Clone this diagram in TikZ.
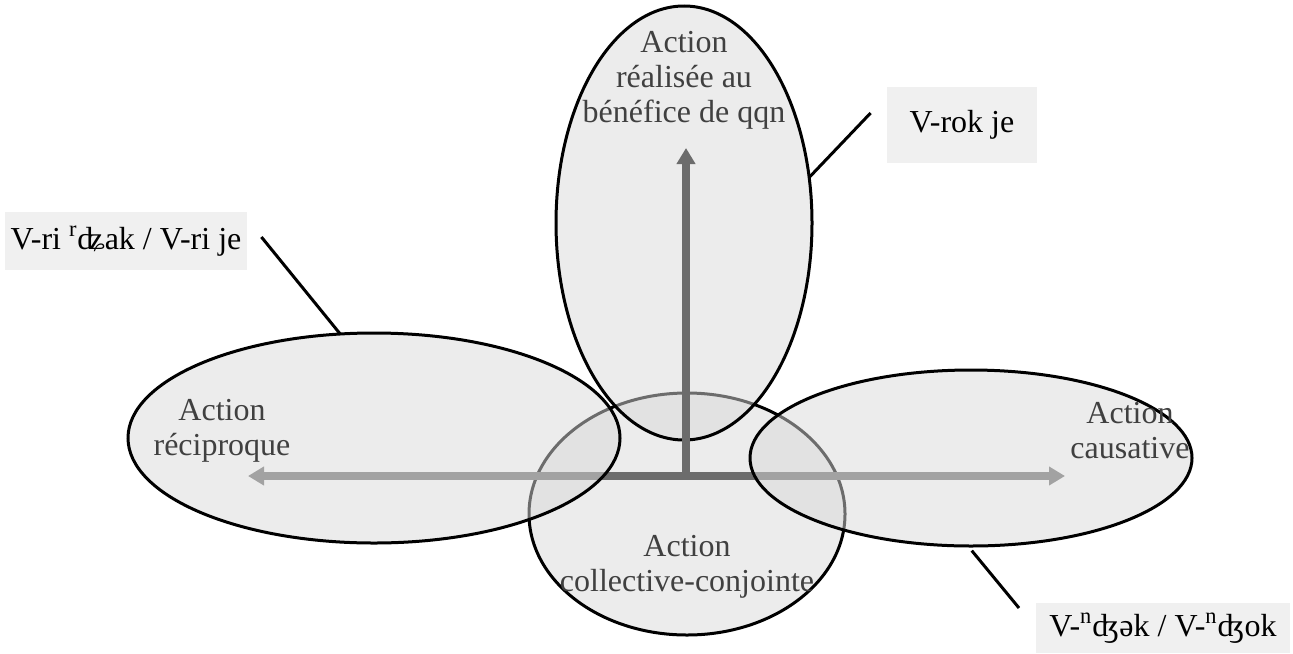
\documentclass[tikz,border=0pt]{standalone}
\usepackage{fontspec}
\setmainfont{Liberation Serif}
\usetikzlibrary{shapes.geometric,arrows.meta}

\tikzset{
  bubble/.style={ellipse,draw,line width=1.5pt,fill=gray!30,fill opacity=0.5,
    inner sep=0pt,outer sep=0pt},
  caption/.style={align=center,text=black!75,font=\fontsize{16}{17.5}\selectfont},
  tag/.style={fill=gray!12,inner sep=0pt,font=\fontsize{16}{17.5}\selectfont},
  leader/.style={line width=1.5pt},
  axis/.style={line width=4pt,draw=gray!85!black,
    arrows={-Triangle[length=8pt,width=9pt]}}
}

\begin{document}
\begin{tikzpicture}[x=0.5pt,y=-0.5pt]
  \useasboundingbox (0,0) rectangle (1293,653);
  % bottom circle first, the others lie over it
  \node[bubble,minimum width=158pt,minimum height=121pt](ebot) at (687,514){};
  \coordinate (o) at (686,476);
  \coordinate (w) at (248,476);
  \coordinate (e) at (1065,476);
  \coordinate (n) at (686,148);
  \draw[axis] (o) -- (w);
  \draw[axis] (o) -- (e);
  \node[bubble,minimum width=246pt,minimum height=105pt](eleft) at (374,438){};
  \node[bubble,minimum width=221pt,minimum height=88pt](eright) at (971,458){};
  \node[bubble,minimum width=128pt,minimum height=217pt](etop) at (684,223){};
  \draw[axis] (o) -- (n);

  \node[caption](ttop) at (684,80){Action\\réalisée au\\bénéfice de qqn};
  \node[caption](tleft) at (222,431){Action\\réciproque};
  \node[caption](tright) at (1130,431){Action\\causative};
  \node[caption](tbot) at (687,567){Action\\collective-conjointe};

  \node[tag,minimum width=121pt,minimum height=29pt](lleft) at (126,241)
    {V-ri \textsuperscript{r}ʥak / V-ri je};
  \node[tag,minimum width=75pt,minimum height=38pt](ltop) at (962,125){V-rok je};
  \node[tag,minimum width=127pt,minimum height=25pt](lbot) at (1163,628)
    {V-\textsuperscript{n}ʤək / V-\textsuperscript{n}ʤok};

  \draw[leader] (eleft.108) -- ([xshift=7pt]lleft.north east |- 0,237);
  \draw[leader] (etop.20) -- ([xshift=-8pt]ltop.west |- 0,113);
  \draw[leader,shorten <=3pt] (eright.268) -- (1019,608);
\end{tikzpicture}
\end{document}
